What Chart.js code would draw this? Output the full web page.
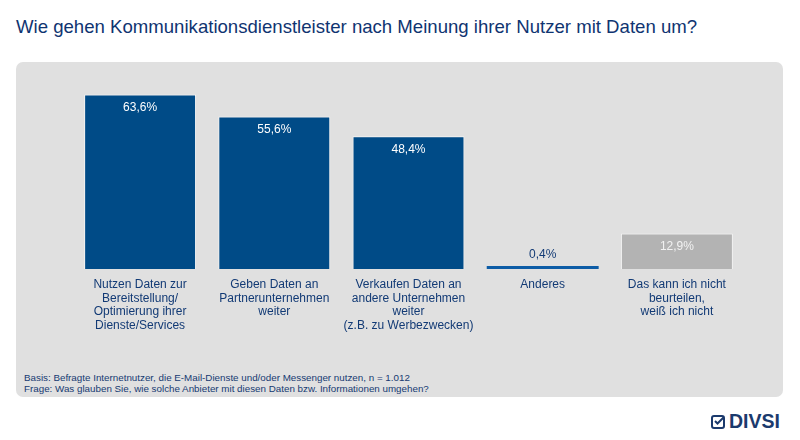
<!DOCTYPE html>
<html lang="de">
<head>
<meta charset="utf-8">
<script src="https://cdn.jsdelivr.net/npm/chart.js@4.4.1/dist/chart.umd.min.js"></script>
<style>
  html, body { margin: 0; padding: 0; background: #fff; }
  body { width: 800px; height: 440px; position: relative; overflow: hidden;
         font-family: "Liberation Sans", Arial, sans-serif; }
  #title { position: absolute; left: 16px; top: 16px; margin: 0; font-size: 18.6px;
           font-weight: normal; color: #0f3471; white-space: nowrap; }
  #panel { position: absolute; left: 16px; top: 62px; width: 767px; height: 335px;
           background: #e0e0e0; border-radius: 7px; }
  #chartBox { position: absolute; left: 0; top: 0; width: 767px; height: 279px; }
  #notes { position: absolute; left: 8px; top: 310px; font-size: 9.8px; line-height: 11px;
           color: #163a72; }
  #logo { position: absolute; left: 711px; top: 410px; height: 22px; display: flex;
          align-items: center; color: #1b3a6d; font-weight: bold; font-size: 19.5px; }
  #logo svg { margin-right: 4px; }
</style>
</head>
<body>
<h1 id="title">Wie gehen Kommunikationsdienstleister nach Meinung ihrer Nutzer mit Daten um?</h1>
<div id="panel">
  <div id="chartBox"><canvas id="barChart"></canvas></div>
  <div id="notes">Basis: Befragte Internetnutzer, die E-Mail-Dienste und/oder Messenger nutzen, n = 1.012<br>Frage: Was glauben Sie, wie solche Anbieter mit diesen Daten bzw. Informationen umgehen?</div>
</div>
<div id="logo">
  <svg width="14" height="15" viewBox="0 0 14 15">
    <rect x="1" y="2" width="12" height="12" rx="2" fill="none" stroke="#1b3a6d" stroke-width="2"/>
    <path d="M4 7 L6.5 9.5 L12.5 3.5" fill="none" stroke="#1b3a6d" stroke-width="2"/>
  </svg>
  <span>DIVSI</span>
</div>

<script>
// Daten
var categories = [
	["Nutzen Daten zur", "Bereitstellung/", "Optimierung ihrer", "Dienste/Services"],
	["Geben Daten an", "Partnerunternehmen", "weiter"],
	["Verkaufen Daten an", "andere Unternehmen", "weiter", "(z.B. zu Werbezwecken)"],
	["Anderes"],
	["Das kann ich nicht", "beurteilen,", "weiß ich nicht"]
];
var shares = [63.6, 55.6, 48.4, 0.4, 12.9];

var barColors = ["#004b87", "#004b87", "#004b87", "#0d5ca6", "#b3b3b3"];
var borderColors = ["#f4f4f4", "#f4f4f4", "#f4f4f4", "#0d5ca6", "#f4f4f4"];
var labelColors = ["#ffffff", "#ffffff", "#ffffff", "#123a75", "#f2f2f2"];

function pct(v) {
	return v.toFixed(1).replace(".", ",") + "%";
}

// Wertebeschriftung
var valueLabels = {
	id: 'valueLabels',
	afterDatasetsDraw: function (chart) {
		var ctx = chart.ctx;
		var meta = chart.getDatasetMeta(0);
		ctx.save();
		ctx.font = '12px "Liberation Sans", Arial, sans-serif';
		ctx.textAlign = 'center';
		ctx.textBaseline = 'middle';
		meta.data.forEach(function (bar, i) {
			var h = bar.base - bar.y;
			ctx.fillStyle = labelColors[i];
			if (h > 25) {
				ctx.fillText(pct(shares[i]), bar.x, bar.y + 13);
			} else {
				ctx.fillText(pct(shares[i]), bar.x, bar.y - 11);
			}
		});
		ctx.restore();
	}
};

var ctx = document.getElementById("barChart");
var myChart = new Chart(ctx, {
	type: 'bar',
	data: {
		labels: categories,
		datasets: [{
			data: shares,
			backgroundColor: barColors,
			borderColor: borderColors,
			borderWidth: [1, 1, 1, 0, 1],
			minBarLength: 3,
			barPercentage: 1,
			categoryPercentage: 0.834
		}]
	},
	options: {
		responsive: true,
		maintainAspectRatio: false,
		animation: false,
		layout: { padding: { top: 15, left: 57, right: 39, bottom: 0 } },
		plugins: {
			legend: { display: false },
			tooltip: { enabled: false }
		},
		scales: {
			x: {
				grid: { display: false, drawTicks: false },
				border: { display: false },
				ticks: {
					color: '#123a75',
					padding: 9,
					maxRotation: 0,
					autoSkip: false,
					font: { family: '"Liberation Sans", Arial, sans-serif', size: 12, lineHeight: 1.125 }
				}
			},
			y: {
				display: false,
				min: 0,
				max: 70
			}
		}
	},
	plugins: [valueLabels]
});
</script>
</body>
</html>
